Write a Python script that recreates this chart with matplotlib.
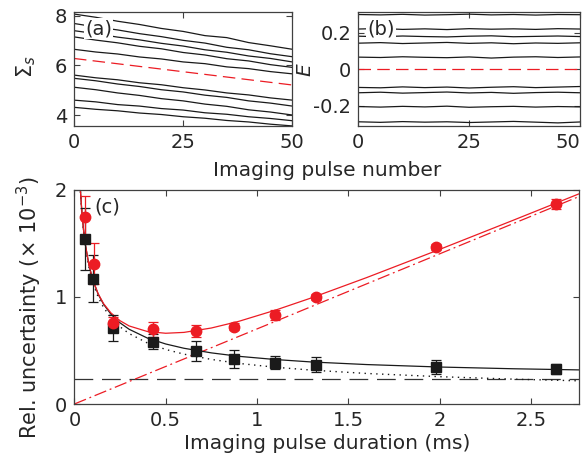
import numpy as np
import matplotlib
matplotlib.use("Agg")
import matplotlib.pyplot as plt

plt.rcParams['font.family'] = ['DejaVu Sans']
plt.rcParams['mathtext.fontset'] = 'dejavusans'
plt.rcParams['font.size'] = 14

RED = '#ec1c24'
BLK = '#1a1a1a'
TXT = '#262626'

# ---- panel (a): Sigma_s vs pulse number ----
pulse = [0, 5, 10, 15, 20, 25, 30, 35, 40, 45, 50]
sig_lines = [
    [8.07, 7.94, 7.78, 7.65, 7.49, 7.37, 7.20, 7.12, 6.92, 6.79, 6.65],
    [7.69, 7.55, 7.43, 7.28, 7.16, 7.01, 6.90, 6.73, 6.63, 6.47, 6.35],
    [7.40, 7.28, 7.14, 7.03, 6.89, 6.78, 6.63, 6.53, 6.38, 6.28, 6.14],
    [7.15, 7.02, 6.91, 6.77, 6.67, 6.52, 6.42, 6.27, 6.18, 6.03, 5.92],
    [6.65, 6.54, 6.46, 6.34, 6.26, 6.14, 6.07, 5.94, 5.87, 5.75, 5.66],
    [5.61, 5.50, 5.42, 5.30, 5.22, 5.10, 5.01, 4.89, 4.81, 4.69, 4.60],
    [5.48, 5.38, 5.25, 5.15, 5.02, 4.93, 4.80, 4.71, 4.57, 4.48, 4.36],
    [5.12, 5.02, 4.89, 4.79, 4.66, 4.57, 4.44, 4.35, 4.21, 4.12, 4.00],
    [4.60, 4.53, 4.42, 4.36, 4.26, 4.20, 4.09, 4.03, 3.93, 3.86, 3.77],
    [4.31, 4.23, 4.17, 4.08, 4.02, 3.93, 3.87, 3.78, 3.72, 3.63, 3.56],
]
sig_mean_x = [0, 50]
sig_mean = [6.28, 5.21]

# ---- panel (b): E vs pulse number ----
e_lines = [
    [0.298, 0.296, 0.299, 0.295, 0.297, 0.300, 0.296, 0.298, 0.295, 0.298, 0.297],
    [0.219, 0.222, 0.217, 0.220, 0.216, 0.221, 0.218, 0.220, 0.217, 0.221, 0.219],
    [0.180, 0.177, 0.181, 0.178, 0.176, 0.180, 0.182, 0.177, 0.179, 0.181, 0.178],
    [0.142, 0.145, 0.140, 0.143, 0.146, 0.141, 0.144, 0.139, 0.143, 0.141, 0.144],
    [0.066, 0.064, 0.068, 0.065, 0.063, 0.067, 0.061, 0.066, 0.068, 0.064, 0.067],
    [-0.099, -0.101, -0.096, -0.100, -0.097, -0.102, -0.098, -0.095, -0.100, -0.097, -0.094],
    [-0.128, -0.125, -0.130, -0.127, -0.124, -0.129, -0.126, -0.131, -0.127, -0.125, -0.128],
    [-0.203, -0.206, -0.202, -0.205, -0.201, -0.207, -0.204, -0.202, -0.206, -0.203, -0.205],
    [-0.286, -0.289, -0.285, -0.288, -0.286, -0.290, -0.287, -0.284, -0.288, -0.292, -0.287],
]
e_mean_x = [0, 50]
e_mean = [0.0, 0.0]

# ---- panel (c): relative uncertainty vs pulse duration ----
t_black = [0.058, 0.104, 0.213, 0.432, 0.664, 0.876, 1.10, 1.323, 1.98, 2.636]
u_black = [1.54, 1.17, 0.706, 0.58, 0.494, 0.42, 0.385, 0.364, 0.342, 0.326]
e_black = [0.29, 0.22, 0.12, 0.07, 0.09, 0.08, 0.06, 0.07, 0.065, 0.045]

t_red = [0.058, 0.107, 0.213, 0.432, 0.666, 0.876, 1.10, 1.323, 1.98, 2.636]
u_red = [1.747, 1.31, 0.758, 0.697, 0.681, 0.721, 0.83, 1.0, 1.467, 1.866]
e_red = [0.19, 0.19, 0.05, 0.07, 0.06, 0.03, 0.05, 0.03, 0.03, 0.05]

t_fit = [0.033, 0.04, 0.05, 0.06, 0.08, 0.10, 0.13, 0.16, 0.2, 0.25, 0.3, 0.4,
         0.5, 0.6, 0.75, 0.9, 1.1, 1.3, 1.6, 2.0, 2.4, 2.77]
fit_black = [1.995, 1.815, 1.627, 1.488, 1.294, 1.162, 1.025, 0.930, 0.838, 0.757, 0.697,
             0.615, 0.560, 0.520, 0.477, 0.445, 0.415, 0.392, 0.368, 0.345, 0.329, 0.318]
fit_red = [1.995, 1.815, 1.627, 1.489, 1.295, 1.164, 1.029, 0.936, 0.850, 0.777, 0.728,
           0.676, 0.660, 0.668, 0.709, 0.771, 0.875, 0.991, 1.179, 1.442, 1.712, 1.965]
fit_shot = [1.982, 1.800, 1.610, 1.470, 1.273, 1.138, 0.998, 0.900, 0.805, 0.720, 0.657,
            0.569, 0.509, 0.465, 0.416, 0.379, 0.343, 0.316, 0.285, 0.255, 0.232, 0.216]
floor_x = [0.0, 2.77]
floor_y = [0.233, 0.233]
lin_x = [0.0, 2.77]
lin_y = [0.0, 1.94]


def style_axes(ax):
    for s in ax.spines.values():
        s.set_color('#404040')
        s.set_linewidth(0.9)
    ax.tick_params(direction='in', top=True, right=True, length=4, width=0.8,
                   colors='#404040', labelcolor=TXT, labelsize=14, pad=5)


fig = plt.figure(figsize=(5.82, 4.70), dpi=100)

ax_a = fig.add_axes([0.1271, 0.7326, 0.3751, 0.2412])
for ys in sig_lines:
    ax_a.plot(pulse, ys, color=BLK, lw=0.9)
ax_a.plot(sig_mean_x, sig_mean, color=RED, lw=0.9, dashes=(10, 5))
ax_a.set_xlim(0, 50)
ax_a.set_ylim(3.57, 8.14)
ax_a.set_xticks([0, 25, 50])
ax_a.set_yticks([4, 6, 8])
ax_a.set_ylabel(r'$\Sigma_s$', color=TXT, fontsize=15)
ax_a.yaxis.set_label_coords(-0.165, 0.52)
ax_a.text(0.05, 0.94, '(a)', transform=ax_a.transAxes, va='top', ha='left',
          color=TXT, bbox=dict(facecolor='white', edgecolor='none', pad=1.0))
style_axes(ax_a)

ax_b = fig.add_axes([0.6156, 0.7315, 0.3810, 0.2423])
for ys in e_lines:
    ax_b.plot(pulse, ys, color=BLK, lw=0.9)
ax_b.plot(e_mean_x, e_mean, color=RED, lw=0.9, dashes=(10, 5))
ax_b.set_xlim(0, 50)
ax_b.set_ylim(-0.31, 0.31)
ax_b.set_xticks([0, 25, 50])
ax_b.set_yticks([-0.2, 0, 0.2])
ax_b.set_yticklabels(['-0.2', '0', '0.2'])
ax_b.set_ylabel(r'$E$', color=TXT, fontsize=14.5)
ax_b.yaxis.set_label_coords(-0.195, 0.5)
ax_b.text(0.04, 0.94, '(b)', transform=ax_b.transAxes, va='top', ha='left',
          color=TXT, bbox=dict(facecolor='white', edgecolor='none', pad=1.0))
style_axes(ax_b)
ax_b.get_xticklabels()[-1].set_ha('right')

fig.text(0.562, 0.638, 'Imaging pulse number', ha='center', va='center', color=TXT, fontsize=14.5)

ax_c = fig.add_axes([0.1278, 0.1404, 0.8676, 0.4562])
ax_c.plot(floor_x, floor_y, color='#333333', lw=0.9, dashes=(15, 7))
ax_c.plot(t_fit, fit_shot, color=BLK, lw=1.0, dashes=(1, 3.2))
ax_c.plot(lin_x, lin_y, color=RED, lw=0.9, dashes=(10, 3, 1.5, 3))
ax_c.plot(t_fit, fit_black, color=BLK, lw=0.9)
ax_c.plot(t_fit, fit_red, color=RED, lw=0.9)
ax_c.errorbar(t_black, u_black, yerr=e_black, fmt='s', color=BLK, ms=6.5,
              elinewidth=0.9, capsize=3.5, capthick=0.9)
ax_c.errorbar(t_red, u_red, yerr=e_red, fmt='o', color=RED, ms=7.5,
              elinewidth=0.9, capsize=3.5, capthick=0.9)
ax_c.set_xlim(0, 2.765)
ax_c.set_ylim(0, 2)
ax_c.set_xticks([0, 0.5, 1, 1.5, 2, 2.5])
ax_c.set_xticklabels(['0', '0.5', '1', '1.5', '2', '2.5'])
ax_c.set_yticks([0, 1, 2])
ax_c.set_xlabel('Imaging pulse duration (ms)', color=TXT, labelpad=3, fontsize=14.5)
ax_c.set_ylabel(r'Rel. uncertainty (× 10$^{-3}$)', color=TXT, fontsize=15)
ax_c.yaxis.set_label_coords(-0.06, 0.45)
ax_c.text(0.04, 0.965, '(c)', transform=ax_c.transAxes, va='top', ha='left', color=TXT)
style_axes(ax_c)

fig.savefig('out.png', dpi=100)
